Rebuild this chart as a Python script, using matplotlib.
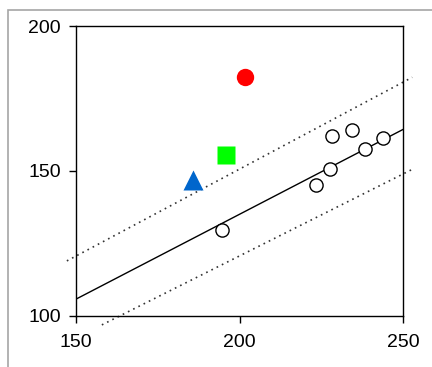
import matplotlib
matplotlib.use("Agg")
import matplotlib.pyplot as plt
from matplotlib.patches import Rectangle

# data
obs_x = [194.6, 223.4, 227.8, 228.4, 234.4, 238.4, 243.8]
obs_y = [129.6, 145.2, 150.6, 162.0, 164.1, 157.6, 161.3]

fit_x = [150, 250]
fit_y = [105.7, 164.3]
upper_x = [147.2, 252.8]
upper_y = [118.9, 182.3]
lower_x = [157.9, 252.8]
lower_y = [96.8, 150.5]

red_pt = (201.6, 182.5)
green_pt = (196.0, 155.5)
blue_pt = (185.9, 147.0)

xticks = [150, 200, 250]
yticks = [100, 150, 200]

plt.rcParams['font.family'] = ['Liberation Sans', 'DejaVu Sans']

fig = plt.figure(figsize=(4.32, 3.67), dpi=100)
ax = fig.add_axes([0.176, 0.14, 0.757, 0.789])

# grey frame (only top and left edges fall inside the image)
fig.patches.append(Rectangle((8 / 432, -0.1), 1.5, 1 - 10 / 367 + 0.1,
                             transform=fig.transFigure, fill=False,
                             edgecolor='#a6a6a6', lw=1.2))

ax.plot(fit_x, fit_y, color='black', lw=1.0, zorder=2)
ax.plot(upper_x, upper_y, color='#333333', lw=1.2, ls=(0, (1, 2.5)), clip_on=False, zorder=2)
ax.plot(lower_x, lower_y, color='#333333', lw=1.2, ls=(0, (1, 2.5)), clip_on=False, zorder=2)

ax.plot(obs_x, obs_y, 'o', ms=9.5, mfc='white', mec='black', mew=1.0, zorder=3)
ax.plot(*red_pt, 'o', ms=12.5, color='#ff0000', mec='none', zorder=3)
ax.plot(*green_pt, 's', ms=12.5, color='#00ff00', mec='none', zorder=3)
ax.plot(*blue_pt, '^', ms=14, color='#0066cc', mec='none', zorder=3)

ax.set_xlim(150, 250)
ax.set_ylim(100, 200)
ax.set_xticks(xticks)
ax.set_yticks(yticks)
ax.tick_params(direction='out', length=5, width=1.0, labelsize=14, colors='black')
ax.tick_params(axis='y', pad=6)
ax.tick_params(axis='x', pad=8)
for s in ax.spines.values():
    s.set_linewidth(1.0)

fig.savefig('out.png', dpi=100)
